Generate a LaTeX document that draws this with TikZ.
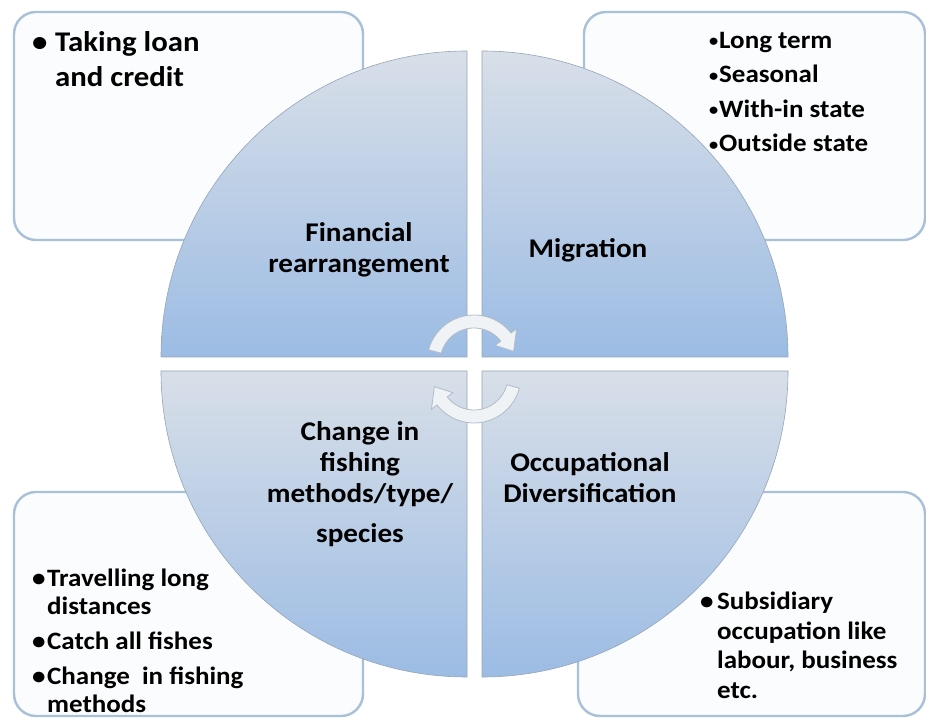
\documentclass[tikz,border=0pt]{standalone}
\usepackage{fontspec}
\setmainfont{Carlito}[FakeStretch=1.08]
\usetikzlibrary{positioning}
\definecolor{boxline}{RGB}{168,192,216}
\definecolor{boxfill}{RGB}{251,252,253}
\definecolor{quadtop}{RGB}{216,223,232}
\definecolor{quadbot}{RGB}{156,188,228}
\definecolor{quadedge}{RGB}{150,165,182}
\definecolor{turnfill}{RGB}{240,243,246}
\definecolor{turnline}{RGB}{178,188,200}
\newcommand{\bul}[1]{\makebox[#1][l]{\textbullet}}
\newcommand{\smallbul}{\makebox[10pt][l]{\raisebox{1.5pt}{\fontsize{17}{17}\selectfont\textbullet}}}

\begin{document}
\begin{tikzpicture}[x=1pt,y=1pt,
  infobox/.style={draw=boxline,line width=2.4pt,fill=boxfill,rounded corners=22pt},
  quarter/.style={draw=quadedge,line width=0.6pt,top color=quadtop,bottom color=quadbot},
  turnarrow/.style={draw=turnline,line width=0.8pt,fill=turnfill},
  quadtext/.style={font=\bfseries\fontsize{27}{31}\selectfont,align=center,inner sep=0pt,anchor=base},
  listtext/.style={font=\bfseries\fontsize{25}{29}\selectfont,align=left,inner sep=0pt,anchor=base west},
]
\fill[white] (0,0) rectangle (926,718);
\useasboundingbox (0,0) rectangle (926,718);
% outer boxes
\node[infobox,minimum width=349pt,minimum height=228pt] (loanbox) at (188.5,592) {};
\node[infobox,minimum width=341pt,minimum height=228pt] (movebox) at (754.5,592) {};
\node[infobox,minimum width=349pt,minimum height=224pt] (fishbox) at (188.5,114) {};
\node[infobox,minimum width=347pt,minimum height=224pt] (workbox) at (751.5,114) {};
% four quarters of the circle
\path[quarter] (467,361) -- (161,361) arc[start angle=180,end angle=90,radius=306] -- cycle;
\path[quarter] (482,361) -- (482,667) arc[start angle=90,end angle=0,radius=306] -- cycle;
\path[quarter] (467,347) -- (467,41) arc[start angle=270,end angle=180,radius=306] -- cycle;
\path[quarter] (482,347) -- (788,347) arc[start angle=0,end angle=-90,radius=306] -- cycle;
% turning arrows
\begin{scope}[shift={(474,356)}]
  \draw[turnarrow] (165:47) arc[start angle=165,end angle=38,radius=47] -- (38:54)
    -- (15:41) -- (38:27) -- (38:34) arc[start angle=38,end angle=165,radius=34] -- cycle;
\end{scope}
\begin{scope}[shift={(474,342)}]
  \draw[turnarrow] (-15:47) arc[start angle=-15,end angle=-142,radius=47] -- (-142:54)
    -- (-165:41) -- (-142:27) -- (-142:34) arc[start angle=-142,end angle=-15,radius=34] -- cycle;
\end{scope}
% quarter titles (anchored at the last baseline)
\node[quadtext] (fin) at (359,445) {Financial\\rearrangement};
\node[quadtext] (mig) at (588,460) {Migration};
\node[quadtext] (fish) at (360,176) {Change in\\fishing\\methods/type/\\[8pt]species};
\node[quadtext] (occ) at (590,215) {Occupational\\Diversification};
% box texts
\node[listtext,font=\bfseries\fontsize{28.5}{35}\selectfont] (loan) at (32,631)
  {\bul{23pt}Taking loan\\\hspace*{23pt}and credit};
\node[listtext,font=\bfseries\fontsize{25}{34.5}\selectfont] (move) at (709,566)
  {\smallbul Long term\\\smallbul Seasonal\\\smallbul With-in state\\\smallbul Outside state};
\node[listtext,font=\bfseries\fontsize{25}{28}\selectfont] (fishing) at (32,6)
  {\bul{15pt}Travelling long\\\hspace*{15pt}distances\\[7pt]\bul{15pt}Catch all fishes\\[7pt]\bul{15pt}Change\ \ in fishing\\\hspace*{15pt}methods};
\node[listtext,font=\bfseries\fontsize{25}{29.5}\selectfont] (work) at (700,20)
  {\bul{17pt}Subsidiary\\\hspace*{17pt}occupation like\\\hspace*{17pt}labour, business\\\hspace*{17pt}etc.};
\end{tikzpicture}
\end{document}
